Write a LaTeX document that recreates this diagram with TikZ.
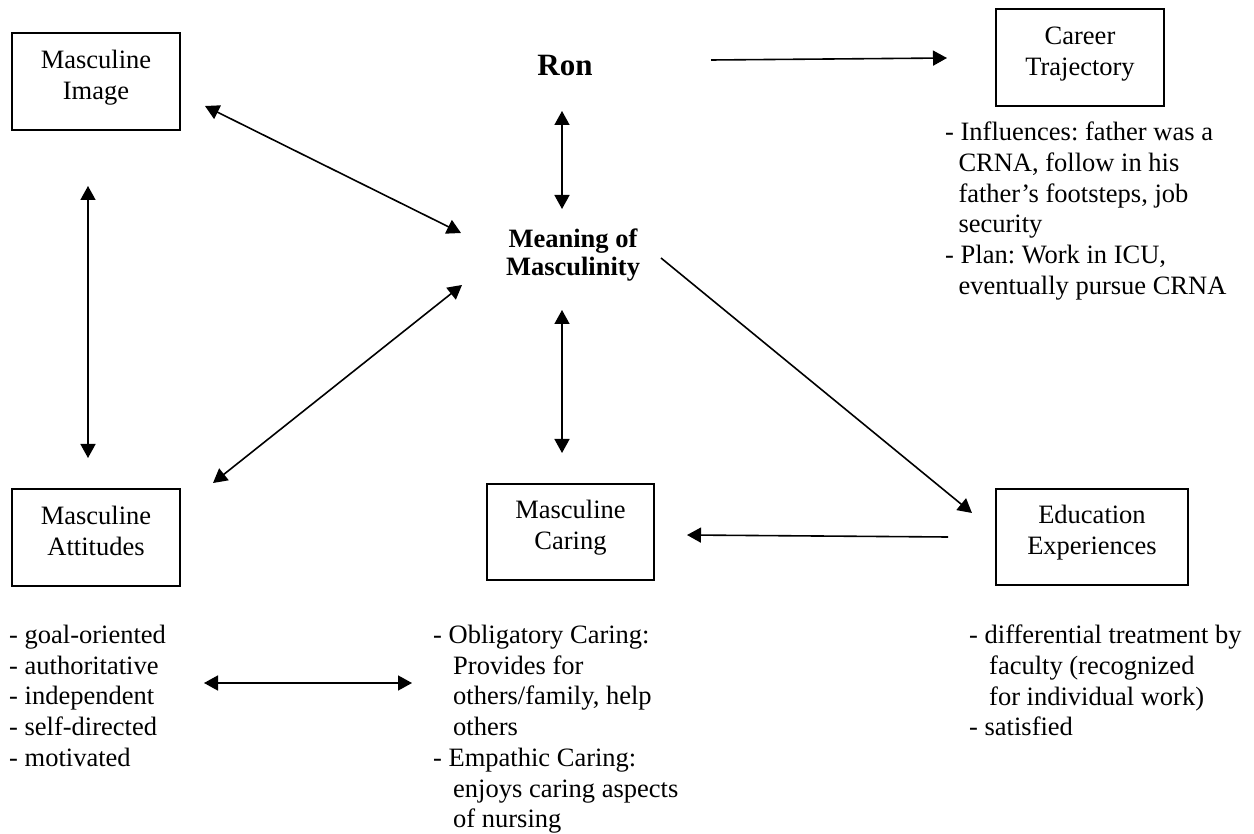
\documentclass[tikz,border=0pt]{standalone}
\usepackage{fontspec}
\setmainfont{Liberation Serif}
\usetikzlibrary{arrows.meta}
\frenchspacing
\begin{document}
\begin{tikzpicture}[x=1pt,y=-1pt,
  >={Triangle[length=14pt,width=15pt]},
  box/.style={draw, line width=1.5pt, inner sep=0pt, align=center,
    font=\fontsize{26.5pt}{31pt}\selectfont,
    execute at begin node=\rule{0pt}{18.5pt},
    execute at end node=\rule[-13.5pt]{0pt}{13.5pt}},
  notes/.style={inner sep=0pt, anchor=north west, align=left,
    font=\fontsize{26.5pt}{30.7pt}\selectfont},
  both/.style={line width=1.6pt, <->},
  fwd/.style={line width=1.6pt, ->}]
\useasboundingbox (0,0) rectangle (1254,834);

% concept boxes
\node[box, minimum width=168pt, minimum height=97pt] (img) at (96,81.5) {Masculine\\Image};
\node[box, minimum width=168pt, minimum height=97pt] (crt) at (1080,57.5) {Career\\Trajectory};
\node[box, minimum width=168pt, minimum height=97pt] (att) at (96,537.5) {Masculine\\Attitudes};
\node[box, minimum width=167pt, minimum height=96pt] (car) at (570.5,532) {Masculine\\Caring};
\node[box, minimum width=192pt, minimum height=96pt] (edu) at (1092,537) {Education\\Experiences};

% central titles
\node[inner sep=0pt, anchor=base, font=\bfseries\fontsize{31pt}{36pt}\selectfont] (ron) at (565,76) {Ron};
\node[inner sep=0pt, anchor=north, align=center, font=\bfseries\fontsize{26.5pt}{28.5pt}\selectfont] (mean) at (573,228.5) {Meaning of\\Masculinity};

% descriptive lists
\node[notes] (crtnotes) at (945,122) {- Influences: father was a\\
  \hspace*{13.3pt}CRNA, follow in his\\
  \hspace*{13.3pt}father's footsteps, job\\
  \hspace*{13.3pt}security\\
  - Plan: Work in ICU,\\
  \hspace*{13.3pt}eventually pursue CRNA};
\node[notes] (attnotes) at (9,625) {- goal-oriented\\
  - authoritative\\
  - independent\\
  - self-directed\\
  - motivated};
\node[notes] (carnotes) at (433,625) {- Obligatory Caring:\\
  \hspace*{20pt}Provides for\\
  \hspace*{20pt}others/family, help\\
  \hspace*{20pt}others\\
  - Empathic Caring:\\
  \hspace*{20pt}enjoys caring aspects\\
  \hspace*{20pt}of nursing};
\node[notes] (edunotes) at (969,625) {- differential treatment by\\
  \hspace*{20pt}faculty (recognized\\
  \hspace*{20pt}for individual work)\\
  - satisfied};

% connector end points
\coordinate (imgR) at (205,106);
\coordinate (meanUL) at (461,233);
\coordinate (imgD) at (88,186);
\coordinate (attU) at (88,458);
\coordinate (ronD) at (562,111);
\coordinate (meanU) at (562,209);
\coordinate (ronR) at (711,60);
\coordinate (crtL) at (947,58);
\coordinate (meanR) at (661,258);
\coordinate (eduUL) at (972,513);
\coordinate (meanLL) at (462,285);
\coordinate (attUR) at (213,483);
\coordinate (meanD) at (562,310);
\coordinate (carU) at (562,453);
\coordinate (eduL) at (948,537);
\coordinate (carR) at (687,535);
\coordinate (attnotesR) at (204,683);
\coordinate (carnotesL) at (412,683);

% connectors
\draw[both] (imgR) -- (meanUL);
\draw[both] (imgD) -- (attU);
\draw[both] (ronD) -- (meanU);
\draw[fwd] (ronR) -- (crtL);
\draw[fwd] (meanR) -- (eduUL);
\draw[both] (meanLL) -- (attUR);
\draw[both] (meanD) -- (carU);
\draw[fwd] (eduL) -- (carR);
\draw[both] (attnotesR) -- (carnotesL);
\end{tikzpicture}
\end{document}
